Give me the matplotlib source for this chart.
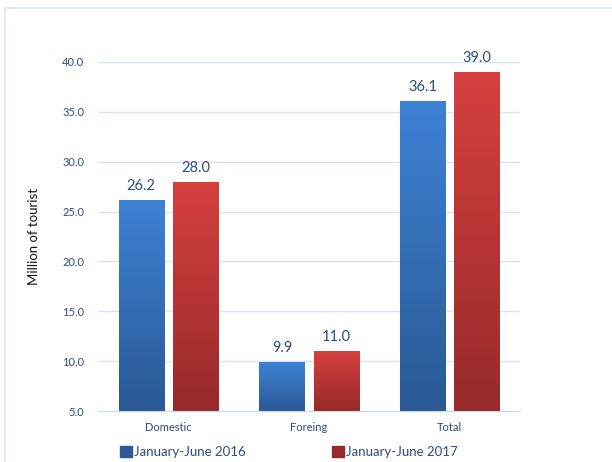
import numpy as np
import matplotlib
matplotlib.use("Agg")
import matplotlib.pyplot as plt
from matplotlib.colors import LinearSegmentedColormap
from matplotlib.patches import Rectangle

categories = ["Domestic", "Foreing", "Total"]
series_2016 = [26.2, 9.9, 36.1]
series_2017 = [28.0, 11.0, 39.0]
series_names = ["January-June 2016", "January-June 2017"]
yticks = [5.0, 10.0, 15.0, 20.0, 25.0, 30.0, 35.0, 40.0]

plt.rcParams['font.family'] = ['Lato', 'DejaVu Sans']

fig = plt.figure(figsize=(6.12, 4.62), dpi=100)
fig.patches.append(Rectangle((5/612, -0.1), 1.1, 1 - 8/462 + 0.1, transform=fig.transFigure,
                             fill=False, edgecolor="#dfe7f1", linewidth=1.2))
ax = fig.add_axes([98/612, 1 - 411/462, 422/612, (411 - 62)/462])

ymin, ymax = 5, 40
ax.set_ylim(ymin, ymax)
ax.set_xlim(-0.5, 2.5)

width = 0.32
gap = 0.064
x = np.arange(len(categories))

grads = [("#3e82d5", "#2a5995"), ("#d6403f", "#972a2a")]
tcol = "#2f4b7c"

for i, (vals, (ctop, cbot)) in enumerate(zip([series_2016, series_2017], grads)):
    offs = -(width + gap) / 2 if i == 0 else (width + gap) / 2
    cmap = LinearSegmentedColormap.from_list("g%d" % i, [cbot, ctop])
    bars = ax.bar(x + offs, [v - ymin for v in vals], width, bottom=ymin, color=ctop, zorder=2,
                  linewidth=0)
    for b, v in zip(bars, vals):
        x0 = b.get_x()
        grad = np.linspace(0, 1, 256).reshape(-1, 1)
        im = ax.imshow(grad, cmap=cmap, origin="lower", aspect="auto",
                       extent=(x0, x0 + width, ymin, v), zorder=3)
        im.set_clip_path(b)
        ax.text(x0 + width / 2, v + 0.7, "%.1f" % v, ha="center", va="bottom",
                fontsize=10.5, color=tcol, zorder=5, clip_on=False)

ax.set_xlim(-0.5, 2.5)
ax.set_ylim(ymin, ymax)

ax.set_yticks(yticks)
ax.set_yticklabels(["%.1f" % t for t in yticks], fontsize=8, color=tcol)
ax.set_xticks(x)
ax.set_xticklabels(categories, fontsize=8, color=tcol)
ax.tick_params(axis="both", length=0)
ax.tick_params(axis="y", pad=10)
ax.tick_params(axis="x", pad=8)
ax.grid(axis="y", color="#d7e3f1", linewidth=1, zorder=0)
ax.set_axisbelow(True)
for s in ["left", "right", "top"]:
    ax.spines[s].set_visible(False)
ax.spines["bottom"].set_color("#c8d7ea")
ax.spines["bottom"].set_zorder(6)

ax.set_ylabel("Million of tourist", fontsize=9.5, color="#111111")
ax.yaxis.set_label_coords(-0.137, 0.5)

handles = [Rectangle((0, 0), 1, 1, color=grads[0][1]), Rectangle((0, 0), 1, 1, color=grads[1][1])]
fig.legend(handles, series_names, loc="center", bbox_to_anchor=(289/612, 1 - 452/462), ncol=2,
           frameon=False, fontsize=9.5, labelcolor=tcol, handlelength=0.9, handleheight=0.9,
           handletextpad=0.2, columnspacing=6.5)

fig.savefig("out.png", dpi=100)
